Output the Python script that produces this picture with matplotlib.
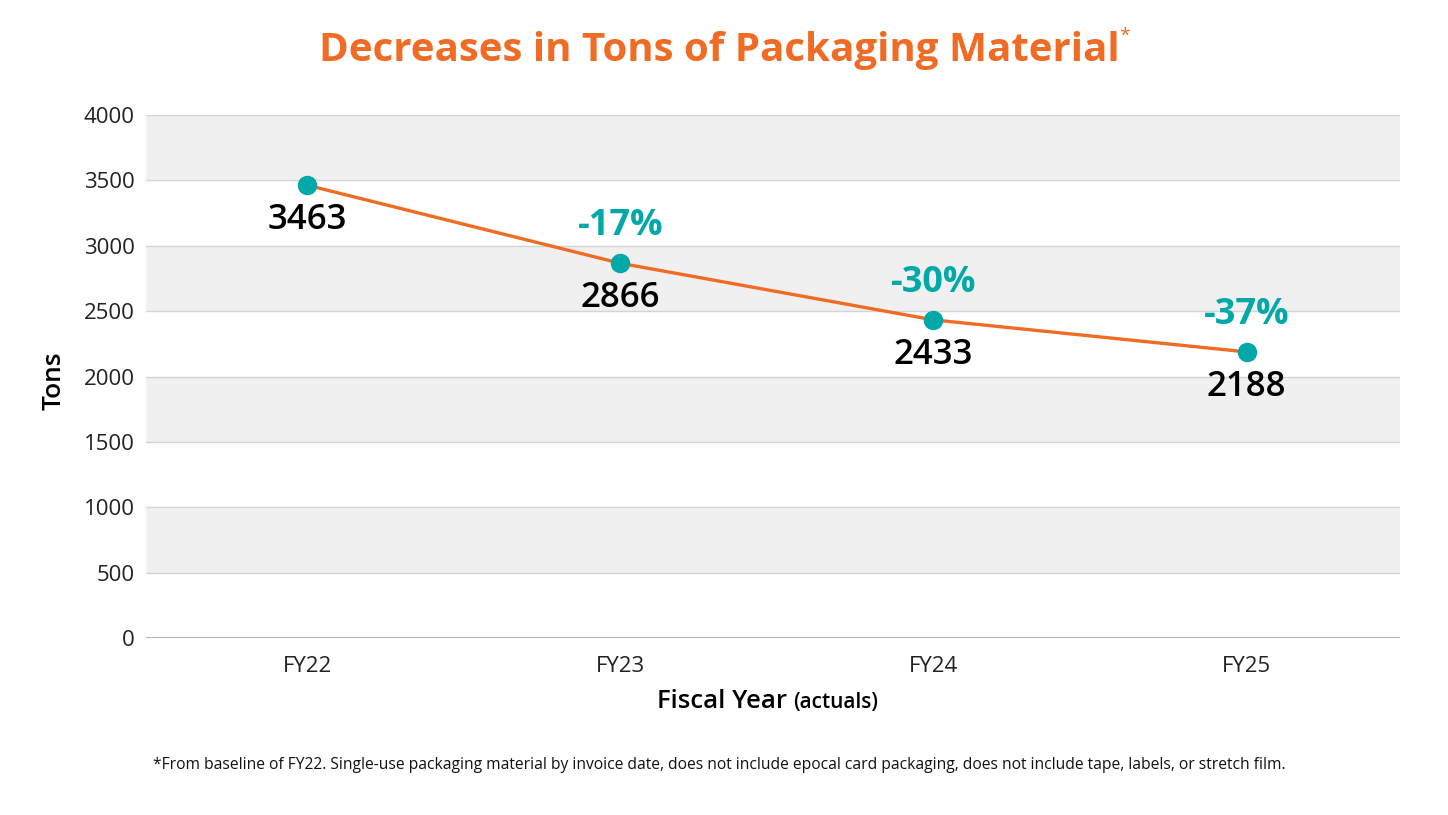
import matplotlib.pyplot as plt
from matplotlib.ticker import MultipleLocator

plt.rcParams['font.family'] = ['Open Sans', 'DejaVu Sans']

ORANGE = '#F06B24'
TEAL = '#00A8A8'

# data
years = ['FY22', 'FY23', 'FY24', 'FY25']
tons = [3463, 2866, 2433, 2188]
changes = ['', '-17%', '-30%', '-37%']

W, H = 1448, 815
fig = plt.figure(figsize=(W / 100, H / 100), dpi=100)
ax = fig.add_axes([146 / W, 1 - 638 / H, (1400 - 146) / W, (638 - 115) / H])

# alternating bands
for lo in range(0, 4000, 500):
    if (lo // 500) % 2 == 1:
        ax.axhspan(lo, lo + 500, color='#F0F0F0', lw=0, zorder=0)
for y in range(500, 4001, 500):
    ax.axhline(y, color='#D4D4D4', lw=1, zorder=1)
ax.axhline(0, color='#A6A6A6', lw=1.2, zorder=1)

x = list(range(len(years)))
ax.plot(x, tons, color=ORANGE, lw=2.4, zorder=3)
ax.plot(x, tons, 'o', color=TEAL, ms=13, zorder=4)

for xi, t, c in zip(x, tons, changes):
    ax.annotate(str(t), (xi, t), xytext=(0, -44), textcoords='offset pixels',
                ha='center', va='baseline', fontsize=25, fontweight='semibold',
                color='black', zorder=5)
    if c:
        ax.annotate(c, (xi, t), xytext=(0, 28), textcoords='offset pixels',
                    ha='center', va='baseline', fontsize=26, fontweight='bold',
                    color=TEAL, zorder=5)

ax.set_xlim(-0.515, 3.49)
ax.set_ylim(0, 4000)
ax.yaxis.set_major_locator(MultipleLocator(500))
ax.set_xticks(x)
ax.set_xticklabels(years)
ax.tick_params(axis='both', length=0, labelsize=16, colors='#222222')
ax.tick_params(axis='x', pad=13)
ax.tick_params(axis='y', pad=8)
for s in ax.spines.values():
    s.set_visible(False)

fig.text(54 / W, 1 - 381 / H, 'Tons', rotation=90, ha='center', va='center',
         fontsize=19, fontweight='semibold')
fig.text(787 / W, 1 - 708 / H, 'Fiscal Year', ha='right', va='baseline',
         fontsize=18.5, fontweight='semibold')
fig.text(793 / W, 1 - 708 / H, '(actuals)', ha='left', va='baseline',
         fontsize=15, fontweight='semibold')

fig.text(719 / W, 1 - 50 / H, 'Decreases in Tons of Packaging Material',
         ha='center', va='center', fontsize=29, fontweight='bold', color=ORANGE)
fig.text(1119 / W, 1 - 36 / H, '*', ha='left', va='center', fontsize=14,
         color=ORANGE)

fig.text(153 / W, 1 - 765 / H,
         '*From baseline of FY22. Single-use packaging material by invoice date, '
         'does not include epocal card packaging, does not include tape, labels, or stretch film.',
         ha='left', va='center', fontsize=11.25, color='#111111')

fig.savefig('out.png', dpi=100)
